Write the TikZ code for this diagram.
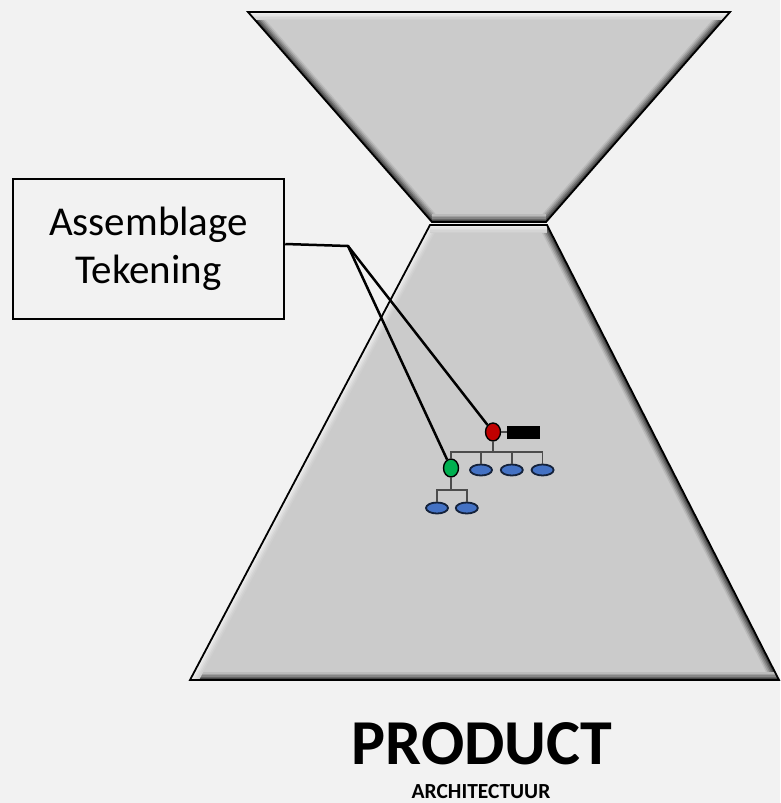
\documentclass[tikz,border=0pt]{standalone}
\usepackage{fontspec}
\setmainfont{Carlito}
\usetikzlibrary{positioning, shapes.geometric}
\definecolor{bggray}{RGB}{242,242,242}
\definecolor{funnelgray}{RGB}{203,203,203}
\definecolor{partblue}{RGB}{68,114,196}
\definecolor{asmred}{RGB}{192,0,0}
\definecolor{subgreen}{RGB}{0,176,80}
% bevel strip along one edge of a funnel half: from, to, shade colour
\newcommand{\bevel}[3]{%
  \foreach \w/\c in {16/92, 13/80, 10/66, 7/50, 4/35}
    \draw[line width=\w pt, funnelgray!\c!#3] #1 -- #2;}

\begin{document}
\begin{tikzpicture}[x=1pt, y=-1pt,
  part/.style={draw=black!70!partblue, line width=1.8pt, ellipse, fill=partblue, minimum width=22pt, minimum height=11pt, inner sep=0pt},
  asm/.style={draw=black, line width=1.4pt, ellipse, minimum width=15pt, minimum height=18pt, inner sep=0pt},
  tree/.style={draw=black!70, line width=1.4pt},
  lead/.style={draw=black, line width=2.5pt}]
\fill[bggray] (0,0) rectangle (780,803);
\useasboundingbox (0,0) rectangle (780,803);

% upper half of the funnel
\fill[funnelgray] (248,12) -- (730,12) -- (546,222) -- (432,222) -- cycle;
\begin{scope}
\clip (248,12) -- (730,12) -- (546,222) -- (432,222) -- cycle;
\bevel{(248,12)}{(432,222)}{black}
\bevel{(730,12)}{(546,222)}{black}
\bevel{(432,222)}{(546,222)}{black}
\bevel{(248,12)}{(730,12)}{white}
\end{scope}
\draw[line width=1.8pt, line join=miter] (248,12) -- (730,12) -- (546,222) -- (432,222) -- cycle;

% lower half of the funnel
\fill[funnelgray] (430,225) -- (547,225) -- (779,680) -- (190,680) -- cycle;
\begin{scope}
\clip (430,225) -- (547,225) -- (779,680) -- (190,680) -- cycle;
\bevel{(547,225)}{(779,680)}{black}
\bevel{(190,680)}{(779,680)}{black}
\bevel{(430,225)}{(190,680)}{white}
\bevel{(430,225)}{(547,225)}{white}
\end{scope}
\draw[line width=1.8pt, line join=miter] (430,225) -- (547,225) -- (779,680) -- (190,680) -- cycle;

% product tree
\node[asm, fill=asmred] (top) at (493,432) {};
\node[draw, fill=black, minimum width=32pt, minimum height=12pt, inner sep=0pt] (tag) at (523,432) {};
\node[asm, fill=subgreen] (sub) at (451,468) {};
\node[part] (p1) at (481,470) {};
\node[part, right=7pt of p1] (p2) {};
\node[part, right=7pt of p2] (p3) {};
\node[part] (p4) at (437,508) {};
\node[part, right=6pt of p4] (p5) {};
\coordinate (bus1) at (493,452);
\coordinate (bus2) at (451,490);
\draw[tree] (top) -- (tag);
\draw[tree] (top) -- (bus1);
\foreach \c in {sub, p1, p2, p3}
  \draw[tree] (bus1) -| (\c);
\draw[tree] (sub) -- (bus2);
\foreach \c in {p4, p5}
  \draw[tree] (bus2) -| (\c);

% label box
\node[draw, line width=2.5pt, fill=bggray, align=center, minimum width=271pt, minimum height=140pt, font=\fontsize{41}{48}\selectfont] (label) at (148.5,249) {Assemblage\\Tekening};
\coordinate (kink) at (348,246);
\draw[lead] ([yshift=5pt]label.east) -- (kink) -- (top);
\draw[lead] (kink) -- (sub);

% captions
\node[font=\fontsize{64}{64}\selectfont\bfseries] (product) at (482,744) {PRODUCT};
\node[font=\fontsize{21.5}{21.5}\selectfont\bfseries] (arch) at (481,792) {ARCHITECTUUR};
\end{tikzpicture}
\end{document}
